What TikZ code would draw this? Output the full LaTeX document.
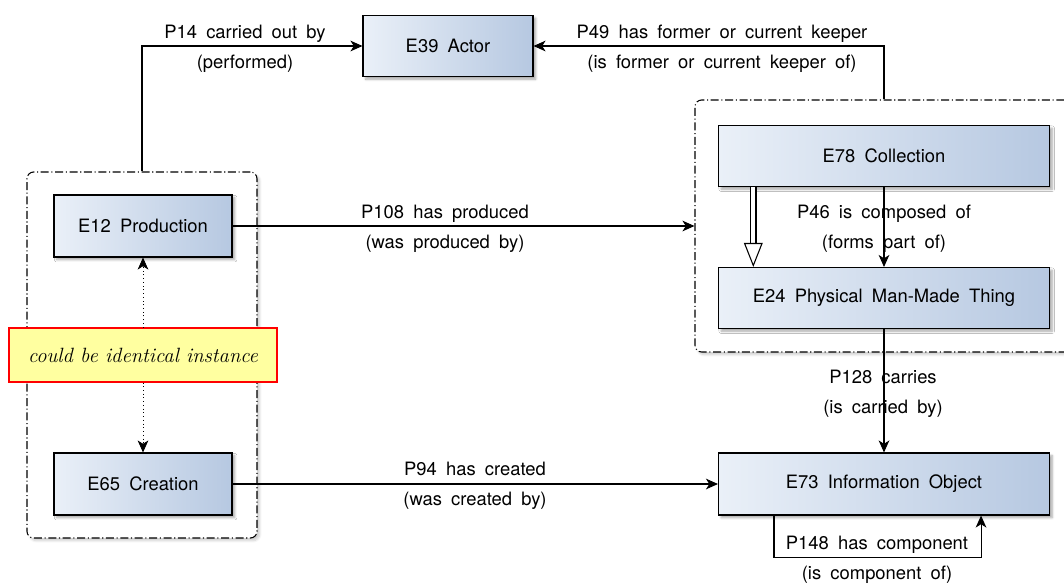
\documentclass[tikz,border=0pt]{standalone}
\usepackage{fontspec}
\setsansfont{TeX Gyre Heros}
\usetikzlibrary{arrows.meta,shadows.blur,positioning}
\definecolor{boxL}{RGB}{234,240,248}
\definecolor{boxR}{RGB}{182,200,225}
\definecolor{noteY}{RGB}{255,255,160}
\tikzset{
  px/.style={x=0.75pt,y=-0.75pt},
  cls/.style={draw=black, line width=0.8pt, left color=boxL, right color=boxR,
    blur shadow={shadow xshift=2pt, shadow yshift=-2pt, shadow blur steps=6, shadow opacity=35},
    font={\sffamily\fontsize{13.8}{16}\selectfont\spaceskip=0.5em\relax}, inner sep=0pt},
  grp/.style={draw=black, line width=0.8pt, dash pattern=on 6pt off 2pt on 0.8pt off 2pt, rounded corners=5pt,
    blur shadow={shadow xshift=2pt, shadow yshift=-2pt, shadow blur steps=6, shadow opacity=20}, fill=white},
  lbl/.style={font={\sffamily\fontsize{13.8}{22.5}\selectfont\spaceskip=0.5em\relax}, align=center, inner sep=0pt},
  rel/.style={line width=0.8pt, -{Stealth[length=9pt,width=8pt,inset=2.5pt]}},
  note/.style={draw=red, line width=0.8pt, fill=noteY, inner sep=0pt,
    font={\itshape\fontsize{15.5}{17}\selectfont}}
}
\begin{document}
\begin{tikzpicture}[px]
\useasboundingbox (0,0) rectangle (1064,583);
% groups
\node[grp, minimum width=172.5pt, minimum height=274.5pt] (lg) at (142,355) {};
\node[grp, minimum width=282pt, minimum height=189pt] (rg) at (883,226) {};
% classes
\node[cls, minimum width=127.5pt, minimum height=45.75pt] (e39) at (448,46) {E39 Actor};
\node[cls, minimum width=248.25pt, minimum height=45.75pt] (e78) at (884,156) {E78 Collection};
\node[cls, minimum width=248.25pt, minimum height=45.75pt] (e24) at (884,298) {E24 Physical Man-Made Thing};
\node[cls, minimum width=133.5pt, minimum height=46.5pt] (e12) at (143,226) {E12 Production};
\node[cls, minimum width=133.5pt, minimum height=46.5pt] (e65) at (143,484) {E65 Creation};
\node[cls, minimum width=248.25pt, minimum height=46.5pt] (e73) at (884,484) {E73 Information Object};
\node[note, minimum width=201pt, minimum height=40.5pt] (nt) at (143,355) {could be identical instance};
% relations
\draw[rel] (lg.north) |- (e39.west);
\draw[rel] (e78.north |- rg.north) |- (e39.east);
\draw[rel] (e12.east) -- (e12.east -| rg.west);
\draw[rel] (e78.south) -- (e24.north);
\draw[line width=0.8pt, double, double distance=3.2pt] ([xshift=26.5pt]e78.south west) -- ([xshift=26.5pt,yshift=17pt]e24.north west);
\draw[line width=0.8pt, -{Triangle[open,length=18pt,width=14pt]}] ([xshift=26.5pt,yshift=18pt]e24.north west) -- ([xshift=26.5pt]e24.north west);
\draw[rel] (e24.south) -- (e73.north);
\draw[rel] (e65.east) -- (e73.west);
\draw[rel] ([xshift=42pt]e73.south west) -- ++(0,42) -| ([xshift=-51.75pt]e73.south east);
\draw[rel, line width=0.6pt, dash pattern=on 0.6pt off 2.2pt] (nt.north) -- (e12.south);
\draw[rel, line width=0.6pt, dash pattern=on 0.6pt off 2.2pt] (nt.south) -- (e65.north);
% labels
\node[lbl] (l14) at (245,49) {P14 carried out by\\(performed)};
\node[lbl] (l49) at (722,49) {P49 has former or current keeper\\(is former or current keeper of)};
\node[lbl] (l108) at (445,229) {P108 has produced\\(was produced by)};
\node[lbl] (l46) at (884,229) {P46 is composed of\\(forms part of)};
\node[lbl] (l128) at (883,394) {P128 carries\\(is carried by)};
\node[lbl] (l94) at (475,486) {P94 has created\\(was created by)};
\node[lbl] (l148) at (877,560) {P148 has component\\(is component of)};
\end{tikzpicture}
\end{document}
